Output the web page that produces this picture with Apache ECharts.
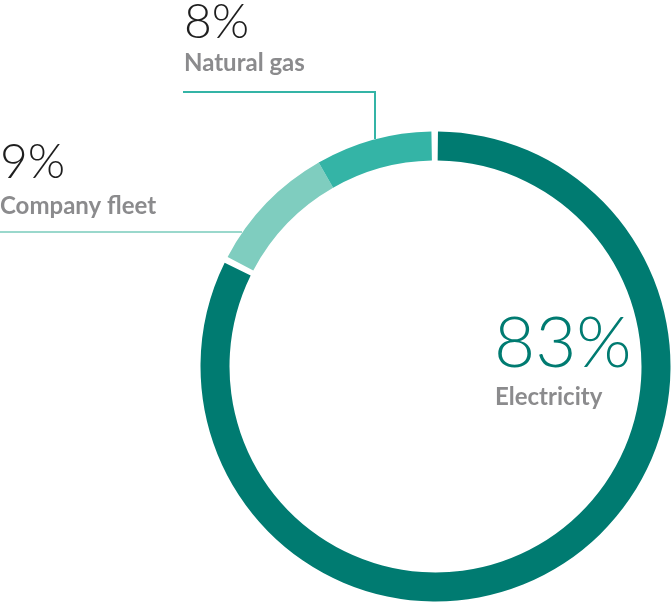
<!DOCTYPE html>
<html>
<head>
<meta charset="utf-8">
<script src="https://cdn.jsdelivr.net/npm/echarts@6/dist/echarts.min.js"></script>
<style>
  html, body { margin: 0; padding: 0; background: #fff; }
  #chart { width: 672px; height: 602px; }
</style>
</head>
<body>
<div id="chart"></div>
<script>
// Energy use by source, in percent
const categories = ['Electricity', 'Company fleet', 'Natural gas'];
const shares = [83, 9, 8];
const colors = ['#007b71', '#7fcdbf', '#34b4a6'];

const center = [435.5, 366.5];
const radius = [206, 235];
const start = 91;

const chart = echarts.init(document.getElementById('chart'), null, { renderer: 'canvas' });

const numFont = '300 48px Lato, "Open Sans", sans-serif';
const nameFont = 'bold 24px Lato, "Open Sans", sans-serif';
const grey = '#8b8b8d';

chart.setOption({
  animation: false,
  series: [
    {
      // Electricity ring segment, padded where it meets the others
      type: 'pie',
      center: center,
      radius: radius,
      startAngle: start,
      clockwise: true,
      padAngle: 3.2,
      silent: true,
      label: { show: false },
      labelLine: { show: false },
      data: [
        { name: categories[0], value: shares[0], itemStyle: { color: colors[0] } },
        { name: 'rest', value: shares[1] + shares[2], itemStyle: { color: 'rgba(0,0,0,0)' } }
      ]
    },
    {
      // Company fleet and natural gas segments, joined with no gap
      type: 'pie',
      center: center,
      radius: radius,
      startAngle: start,
      clockwise: true,
      silent: true,
      label: { show: false },
      labelLine: { show: false },
      data: [
        { name: 'spacer', value: shares[0], itemStyle: { color: 'rgba(0,0,0,0)' } },
        { name: categories[1], value: shares[1], itemStyle: { color: colors[1] } },
        { name: categories[2], value: shares[2], itemStyle: { color: colors[2] } }
      ]
    }
  ],
  graphic: [
    // leader line for natural gas
    { type: 'polyline', shape: { points: [[183, 92], [375, 92], [375, 139]] },
      style: { stroke: colors[2], lineWidth: 2, fill: null }, z: 10 },
    // leader line for company fleet
    { type: 'line', shape: { x1: 0, y1: 232, x2: 242, y2: 232 },
      style: { stroke: '#9ad8cc', lineWidth: 2 }, z: 10 },

    { type: 'text', x: 184, y: 23, style: { text: shares[2] + '%', font: numFont, fill: '#1e1e1e', textVerticalAlign: 'middle' } },
    { type: 'text', x: 184, y: 63, style: { text: categories[2], font: nameFont, fill: grey, textVerticalAlign: 'middle' } },

    { type: 'text', x: 0, y: 163, style: { text: shares[1] + '%', font: numFont, fill: '#1e1e1e', textVerticalAlign: 'middle' } },
    { type: 'text', x: 0, y: 206, style: { text: categories[1], font: nameFont, fill: grey, textVerticalAlign: 'middle' } },

    { type: 'text', x: 494, y: 344, style: { text: shares[0] + '%', font: '300 71px Lato, "Open Sans", sans-serif', fill: colors[0], textVerticalAlign: 'middle' } },
    { type: 'text', x: 495, y: 397, style: { text: categories[0], font: nameFont, fill: grey, textVerticalAlign: 'middle' } }
  ]
});
</script>
</body>
</html>
